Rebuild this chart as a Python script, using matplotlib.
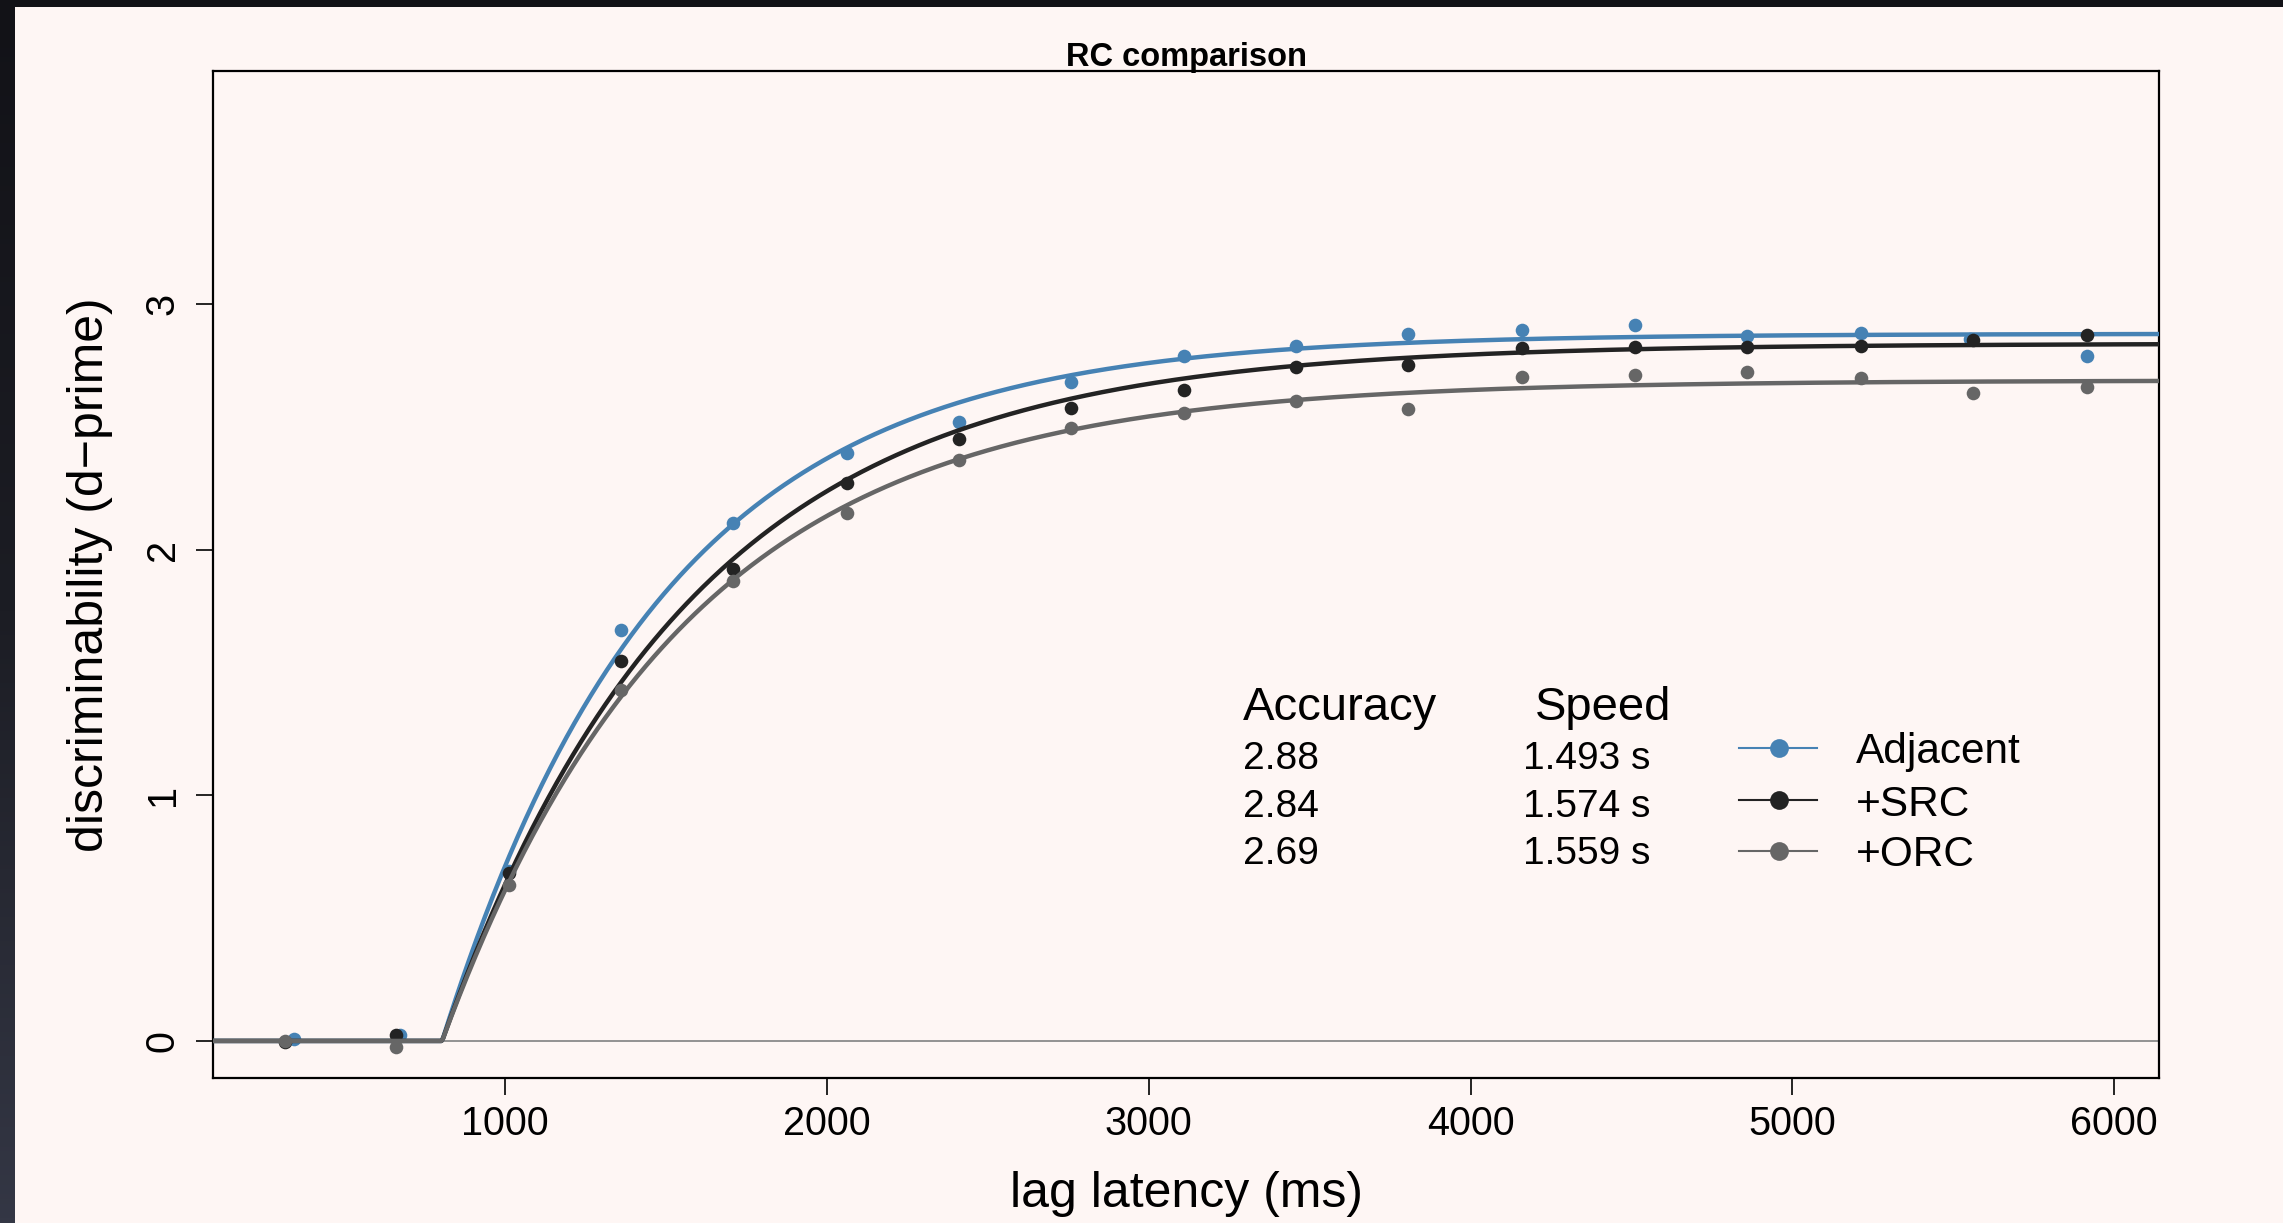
import numpy as np
import matplotlib
matplotlib.use("Agg")
import matplotlib.pyplot as plt
from matplotlib.lines import Line2D
from matplotlib.colors import LinearSegmentedColormap

plt.rcParams['font.family'] = ['Liberation Sans', 'DejaVu Sans']

# ---------------- data ----------------
lag_ms = [315, 662, 1011, 1360, 1709, 2061, 2410, 2758, 3109, 3457, 3806,
          4159, 4511, 4860, 5212, 5562, 5914]
lag_ms_adjacent = [343, 674, 1011, 1360, 1709, 2061, 2410, 2758, 3109, 3457,
                   3806, 4159, 4511, 4860, 5212, 5552, 5914]
dprime_adjacent = [0.007, 0.024, 0.69, 1.673, 2.108, 2.395, 2.520, 2.682, 2.789,
                   2.830, 2.877, 2.894, 2.915, 2.870, 2.881, 2.860, 2.789]
dprime_src = [-0.003, 0.024, 0.683, 1.547, 1.921, 2.271, 2.451, 2.579, 2.651,
              2.743, 2.751, 2.820, 2.824, 2.824, 2.830, 2.854, 2.875]
dprime_orc = [0.000, -0.026, 0.635, 1.429, 1.874, 2.151, 2.366, 2.495, 2.558,
              2.607, 2.573, 2.705, 2.712, 2.724, 2.698, 2.637, 2.662]

conditions = ['Adjacent', '+SRC', '+ORC']
accuracy = [2.88, 2.84, 2.69]          # asymptote (d')
speed_s = [1.493, 1.574, 1.559]        # intercept + 1/rate (s)
intercept_ms = 804                     # curve intercept

x_ticks = [1000, 2000, 3000, 4000, 5000, 6000]
y_ticks = [0, 1, 2, 3]

colors = ['#4682B4', '#232323', '#666666']
bg = '#FEF6F4'

# ---------------- figure ----------------
W, H = 2283, 1223
fig = plt.figure(figsize=(W / 100, H / 100), dpi=100, facecolor=bg)

def fx(px):
    return px / W

def fy(py):
    return 1 - py / H

# dark frame strips (left and top)
grad = np.linspace(0, 1, 256).reshape(-1, 1)
cm = LinearSegmentedColormap.from_list('fr', ['#121217', '#1c1d24', '#343745'])
axl = fig.add_axes([0, 0, fx(14), 1])
axl.imshow(grad, aspect='auto', cmap=cm, extent=[0, 1, 1, 0])
axl.set_axis_off()
axt = fig.add_axes([0, fy(7), 1, 7 / H])
axt.imshow(np.zeros((1, 2)), aspect='auto',
           cmap=LinearSegmentedColormap.from_list('t', ['#121217', '#121217']))
axt.set_axis_off()

L, R, T, B = 212.5, 2159, 71, 1078
ax = fig.add_axes([fx(L), fy(B), fx(R - L), (B - T) / H])
ax.set_facecolor(bg)

xlim = (90.4, 6139)
ylim = (-0.151, 3.950)
ax.set_xlim(*xlim)
ax.set_ylim(*ylim)

# reference line at 0
ax.axhline(0, color='#8a8a8a', lw=1.3, zorder=1)

series_x = [lag_ms_adjacent, lag_ms, lag_ms]
series_y = [dprime_adjacent, dprime_src, dprime_orc]
t = np.linspace(xlim[0], xlim[1], 1200)
for i in range(3):
    ax.plot(series_x[i], series_y[i], 'o', color=colors[i], ms=9.8, mew=0,
            zorder=3 + 2 * i)
    tau = speed_s[i] * 1000 - intercept_ms
    d = np.where(t > intercept_ms,
                 accuracy[i] * (1 - np.exp(-(t - intercept_ms) / tau)), 0.0)
    ax.plot(t, d, color=colors[i], lw=3.2, zorder=4 + 2 * i,
            solid_capstyle='butt')

for s in ax.spines.values():
    s.set_linewidth(1.6)
    s.set_color('black')

ax.set_xticks(x_ticks)
ax.set_xticklabels([str(v) for v in x_ticks], fontsize=28.5)
ax.set_yticks(y_ticks)
ax.set_yticklabels([str(v) for v in y_ticks], fontsize=28.5, rotation=90,
                   va='center')
ax.tick_params(axis='both', length=12.2, width=1.2, direction='out')
ax.tick_params(axis='x', pad=7)
ax.tick_params(axis='y', pad=10)

# title and axis labels
fig.text(fx(1186), fy(66), 'RC comparison', ha='center', va='baseline',
         fontsize=23.5, fontweight='bold')
fig.text(fx(1186), fy(1207), 'lag latency (ms)', ha='center', va='baseline',
         fontsize=36)
fig.text(fx(90), fy(575), 'discriminability (d\u2212prime)', ha='center',
         va='center', rotation=90, fontsize=36)

# accuracy / speed annotation table
fig.text(fx(1243), fy(720), 'Accuracy', ha='left', va='baseline', fontsize=34)
fig.text(fx(1535), fy(720), 'Speed', ha='left', va='baseline', fontsize=34)
row_base = [769, 817, 864]
for i in range(3):
    fig.text(fx(1243), fy(row_base[i]), f'{accuracy[i]:.2f}', ha='left',
             va='baseline', fontsize=28)
    fig.text(fx(1523), fy(row_base[i]), f'{speed_s[i]:.3f} s', ha='left',
             va='baseline', fontsize=28)

# legend (manual)
leg_line_y = [748, 800, 851]
leg_text_base = [763, 816, 866]
for i in range(3):
    fig.add_artist(Line2D([fx(1739), fx(1817)], [fy(leg_line_y[i])] * 2,
                          color=colors[i], lw=1.5, transform=fig.transFigure))
    fig.add_artist(Line2D([fx(1779)], [fy(leg_line_y[i])], marker='o',
                          ms=13.5, mew=0, color=colors[i],
                          transform=fig.transFigure))
    fig.text(fx(1856), fy(leg_text_base[i]), conditions[i], ha='left',
             va='baseline', fontsize=30.5)

fig.savefig('out.png', dpi=100, facecolor=bg)
